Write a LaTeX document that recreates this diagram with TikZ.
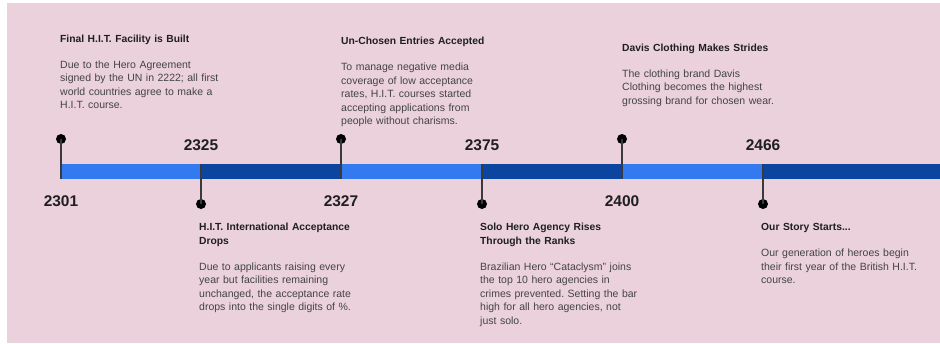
\documentclass[tikz,border=0pt]{standalone}
\usepackage{fontspec}
\setmainfont{Liberation Sans}
\usepackage{tikz}
\usetikzlibrary{positioning}
\frenchspacing

\definecolor{slidebg}{HTML}{EAD1DC}
\definecolor{barlight}{HTML}{3379F0}
\definecolor{bardark}{HTML}{0B45A0}
\definecolor{stemgray}{HTML}{3A3A3A}
\definecolor{titleink}{HTML}{1F1F1F}
\definecolor{bodyink}{HTML}{444444}

\newcommand{\evtitle}[1]{{\fontsize{10.3}{14}\selectfont\bfseries\color{titleink}#1}}

\tikzset{
  dot/.style={circle, fill=black, inner sep=0pt, minimum size=10pt},
  stem/.style={draw=stemgray, line width=1.2pt},
  year/.style={font=\fontsize{15.5}{18}\selectfont\bfseries, text=titleink},
  event/.style={anchor=base west, inner sep=0pt, text width=190pt, align=left,
    font=\fontsize{10.5}{13.6}\selectfont, text=bodyink},
}

\begin{document}
\begin{tikzpicture}[x=1pt, y=-1pt]
% page and slide
\fill[white] (0,0) rectangle (940,343);
\fill[slidebg] (7,3) rectangle (940,343);
\useasboundingbox (0,0) rectangle (940,343);

% Bar segments
\foreach \a/\b/\c in {60/201/barlight, 201/341/bardark, 341/482/barlight,
                      482/622/bardark, 622/763/barlight, 763/940/bardark}
    \fill[\c] (\a,164) rectangle (\b,179);

% Markers above the bar, year below
\foreach \n/\x/\yr in {a/61/2301, c/341/2327, e/622/2400} {
    \coordinate (bar\n) at (\x,179);
    \node[dot] (dot\n) at (\x,139) {};
    \draw[stem] (bar\n) -- (dot\n.center);
    \node[year] (yr\n) at (\x,201) {\yr};
}
% Markers below the bar, year above
\foreach \n/\x/\yr in {b/201/2325, d/482/2375, f/763/2466} {
    \coordinate (bar\n) at (\x,164);
    \node[dot] (dot\n) at (\x,204) {};
    \draw[stem] (bar\n) -- (dot\n.center);
    \node[year] (yr\n) at (\x,145) {\yr};
}

% Events
\node[event] (eva) at (60,42) {\evtitle{Final H.I.T. Facility is Built}\\[12.4pt]
    Due to the Hero Agreement\\ signed by the UN in 2222; all first\\
    world countries agree to make a\\ H.I.T. course.};
\node[event] (evc) at (341,44.5) {\evtitle{Un-Chosen Entries Accepted}\\[12.4pt]
    To manage negative media\\ coverage of low acceptance\\
    rates, H.I.T. courses started\\ accepting applications from\\
    people without charisms.};
\node[event] (eve) at (622,51) {\evtitle{Davis Clothing Makes Strides}\\[12.4pt]
    The clothing brand Davis\\ Clothing becomes the highest\\
    grossing brand for chosen wear.};

\node[event] (evb) at (199,230.5) {\evtitle{H.I.T. International Acceptance\\ Drops}\\[12.4pt]
    Due to applicants raising every\\ year but facilities remaining\\
    unchanged, the acceptance rate\\ drops into the single digits of \%.};
\node[event] (evd) at (480,230.5) {\evtitle{Solo Hero Agency Rises\\ Through the Ranks}\\[12.4pt]
    Brazilian Hero “Cataclysm” joins\\ the top 10 hero agencies in\\
    crimes prevented. Setting the bar\\ high for all hero agencies, not\\
    just solo.};
\node[event] (evf) at (761,230.5) {\evtitle{Our Story Starts...}\\[12.4pt]
    Our generation of heroes begin\\ their first year of the British H.I.T.\\
    course.};
\end{tikzpicture}
\end{document}
